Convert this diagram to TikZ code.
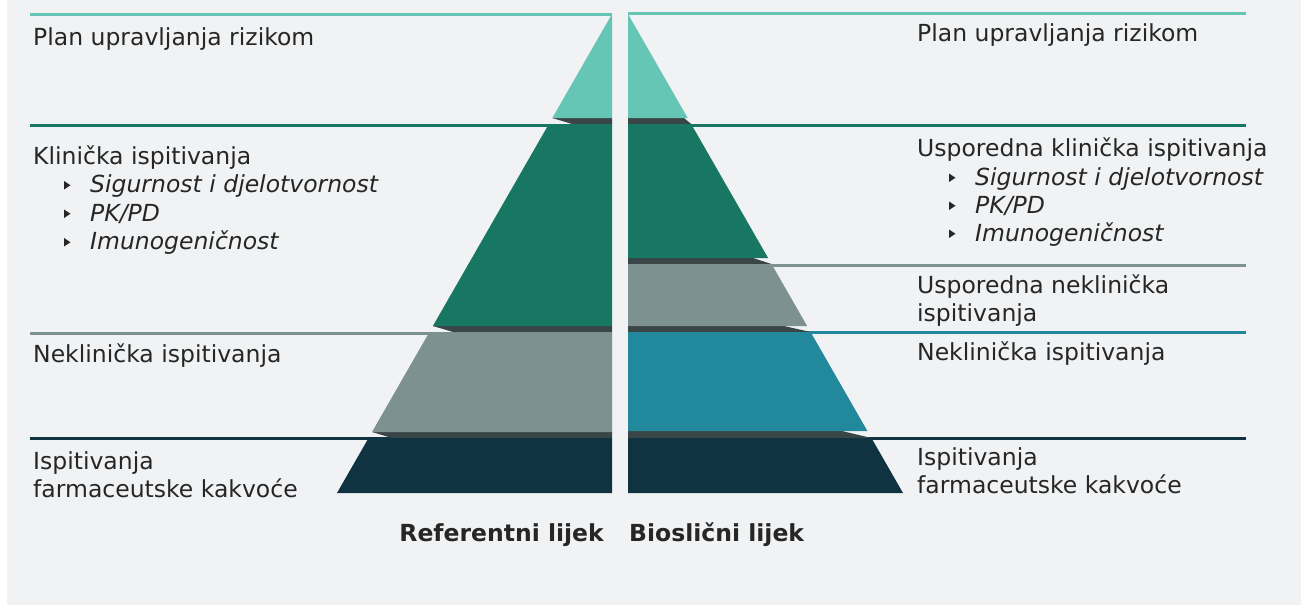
\documentclass[tikz,border=0pt]{standalone}
\usepackage{fontspec}
\setmainfont{DejaVu Sans}
\definecolor{bgc}{HTML}{F1F2F4}
\definecolor{txtc}{HTML}{262626}
\definecolor{tealc}{HTML}{66C6B5}
\definecolor{greenc}{HTML}{177763}
\definecolor{grayc}{HTML}{7D9191}
\definecolor{bluec}{HTML}{22889B}
\definecolor{navyc}{HTML}{0F3340}
\definecolor{shadowc}{HTML}{3A4548}
\newcommand{\mybul}[2]{\fill[txtc] (#1,#2-11.5) -- (#1+6.5,#2-7.25) -- (#1,#2-3) -- cycle;}
\begin{document}
\begin{tikzpicture}[x=1pt,y=-1pt,
  txt/.style={anchor=base west, inner sep=0pt, text=txtc, font=\fontsize{23.5}{28}\selectfont},
  itx/.style={txt, font=\fontsize{23.5}{28}\selectfont\itshape},
  bld/.style={txt, font=\fontsize{23.5}{28}\selectfont\bfseries},
  sep/.style={line width=3pt}]
\useasboundingbox (0,0) rectangle (1301,605);
\fill[white] (0,0) rectangle (1301,605);
\fill[bgc] (7,0) rectangle (1301,605);

% separator lines, left
\draw[sep, tealc] (30,14) -- (612,14);
\draw[sep, greenc] (30,125) -- (612,125);
\draw[sep, grayc] (30,333) -- (612,333);
\draw[sep, navyc] (30,438.5) -- (612,438.5);
% separator lines, right
\draw[sep, tealc] (628,13.5) -- (1246,13.5);
\draw[sep, greenc] (628,125) -- (1246,125);
\draw[sep, grayc] (628,265) -- (1246,265);
\draw[sep, bluec] (628,332.5) -- (1246,332.5);
\draw[sep, navyc] (628,438.5) -- (1246,438.5);

% left pyramid shadows
\fill[shadowc] (552.29,118) -- (612,118) -- (612,124) -- (572,124) -- cycle;
\fill[shadowc] (432.88,326) -- (612,326) -- (612,332) -- (453,332) -- cycle;
\fill[shadowc] (372.02,432) -- (612,432) -- (612,438) -- (392,438) -- cycle;
% left pyramid layers
\fill[tealc] (612,14) -- (612,118) -- (552.29,118) -- cycle;
\fill[greenc] (548.85,124) -- (612,124) -- (612,326) -- (432.88,326) -- cycle;
\fill[grayc] (429.43,332) -- (612,332) -- (612,432) -- (372.02,432) -- cycle;
\fill[navyc] (368.58,438) -- (612,438) -- (612,493) -- (337,493) -- cycle;

% right pyramid shadows
\fill[shadowc] (628,118) -- (684,118) -- (691.15,124) -- (628,124) -- cycle;
\fill[shadowc] (628,258) -- (753,258) -- (771.53,264) -- (628,264) -- cycle;
\fill[shadowc] (628,326) -- (784,326) -- (810.57,332) -- (628,332) -- cycle;
\fill[shadowc] (628,431) -- (842,431) -- (871.42,438) -- (628,438) -- cycle;
% right pyramid layers
\fill[tealc] (628,14) -- (687.71,118) -- (628,118) -- cycle;
\fill[greenc] (628,124) -- (691.15,124) -- (768.08,258) -- (628,258) -- cycle;
\fill[grayc] (628,264) -- (771.53,264) -- (807.12,326) -- (628,326) -- cycle;
\fill[bluec] (628,332) -- (810.57,332) -- (867.40,431) -- (628,431) -- cycle;
\fill[navyc] (628,438) -- (871.42,438) -- (903,493) -- (628,493) -- cycle;

% left texts
\node[txt] (l1) at (33,45) {Plan upravljanja rizikom};
\node[txt] (l2) at (33,164) {Klinička ispitivanja};
\mybul{64}{192.5}
\node[itx] (l2a) at (90,192.5) {Sigurnost i djelotvornost};
\mybul{64}{221}
\node[itx] (l2b) at (90,221) {PK/PD};
\mybul{64}{249.5}
\node[itx] (l2c) at (90,249.5) {Imunogeničnost};
\node[txt] (l3) at (33,362) {Neklinička ispitivanja};
\node[txt] (l4a) at (33,469) {Ispitivanja};
\node[txt] (l4b) at (33,497) {farmaceutske kakvoće};

% right texts
\node[txt] (r1) at (917,41) {Plan upravljanja rizikom};
\node[txt] (r2) at (917,156) {Usporedna klinička ispitivanja};
\mybul{949}{185}
\node[itx] (r2a) at (975,185) {Sigurnost i djelotvornost};
\mybul{949}{213}
\node[itx] (r2b) at (975,213) {PK/PD};
\mybul{949}{241}
\node[itx] (r2c) at (975,241) {Imunogeničnost};
\node[txt] (r3a) at (917,293) {Usporedna neklinička};
\node[txt] (r3b) at (917,321) {ispitivanja};
\node[txt] (r4) at (917,360) {Neklinička ispitivanja};
\node[txt] (r5a) at (917,465) {Ispitivanja};
\node[txt] (r5b) at (917,493.5) {farmaceutske kakvoće};

% bottom labels
\node[bld, anchor=base east] (refl) at (604,541) {Referentni lijek};
\node[bld] (biol) at (629,541) {Bioslični lijek};
\end{tikzpicture}
\end{document}
